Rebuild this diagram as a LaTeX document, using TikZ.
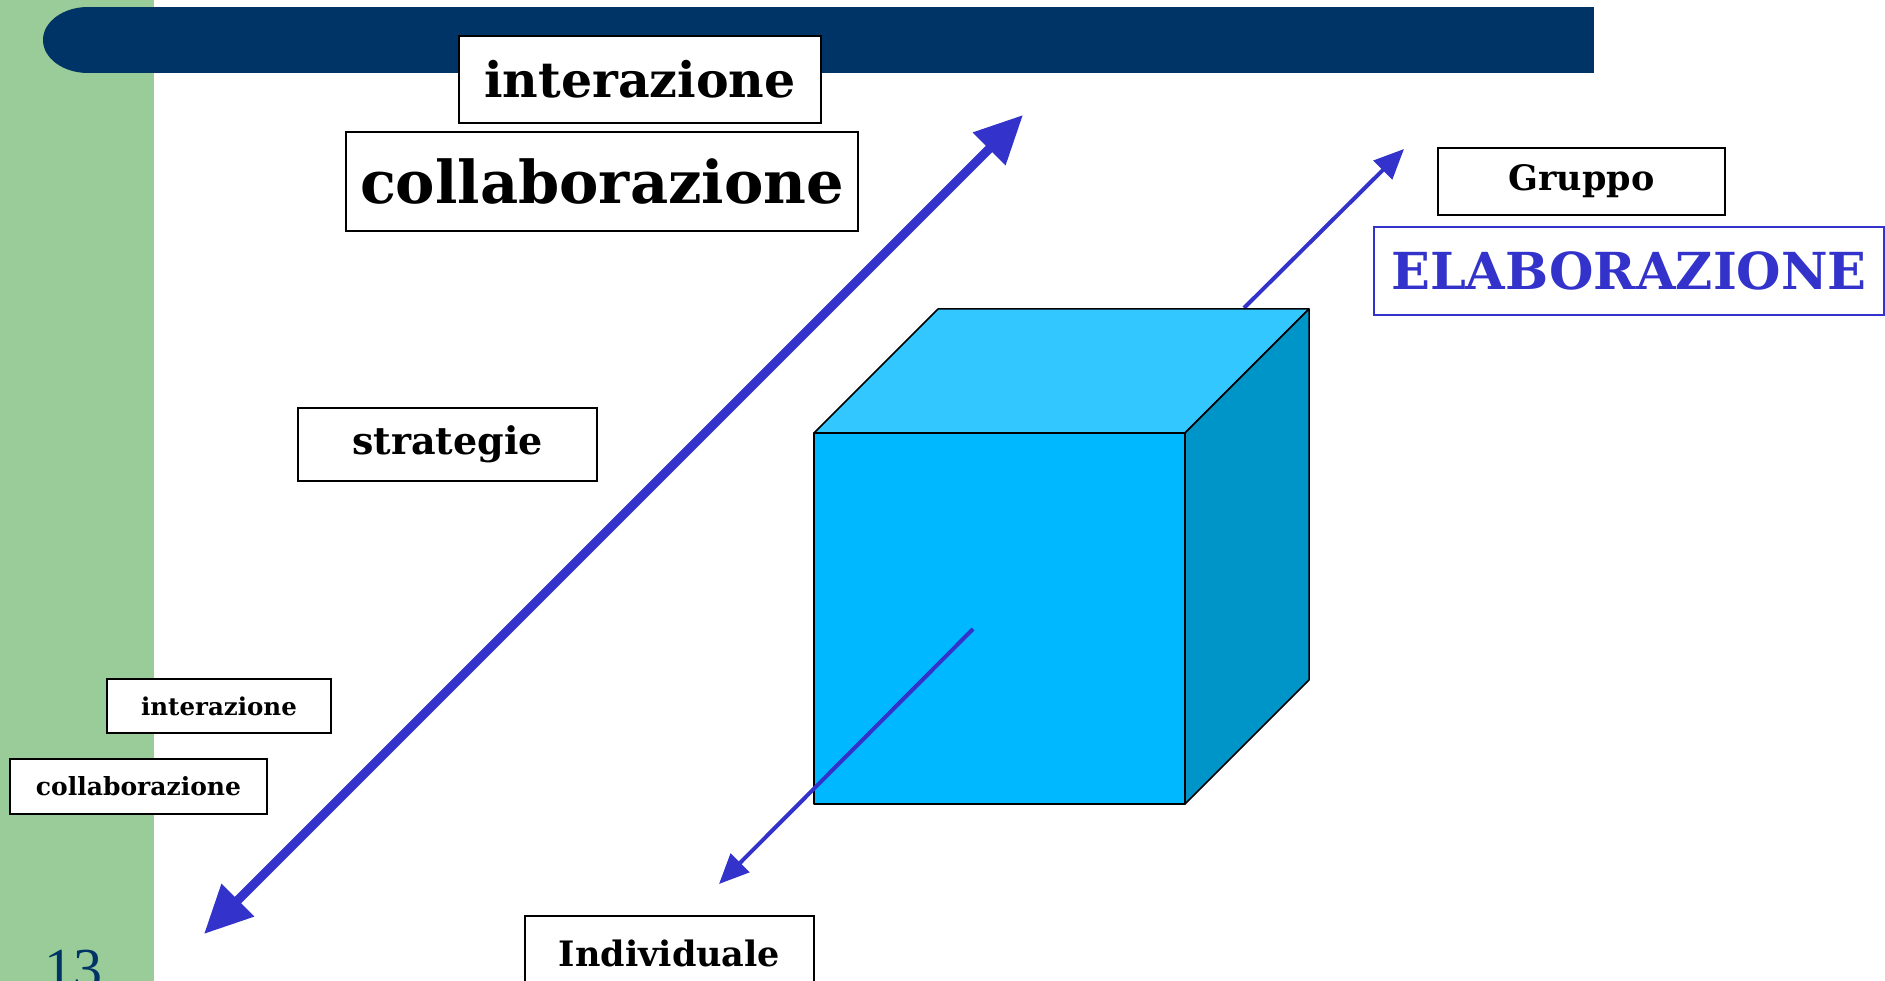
\documentclass[tikz,border=0pt]{standalone}
\usepackage{fontspec}
\setmainfont{DejaVu Serif}
\newfontfamily\numfont{Liberation Serif}
\usetikzlibrary{arrows.meta}
\definecolor{navy}{RGB}{0,51,102}
\definecolor{sidegreen}{RGB}{153,204,153}
\definecolor{arrowblue}{RGB}{51,51,204}
\definecolor{cubefront}{RGB}{0,184,255}
\definecolor{cubetop}{RGB}{51,199,255}
\definecolor{cubeside}{RGB}{0,149,201}
\tikzset{
  lbox/.style={draw=black, line width=2pt, fill=white, inner sep=0pt, align=center, font=\bfseries},
  bigarrow/.style={draw=arrowblue, line width=9pt, {Triangle[length=48pt,width=44pt]}-{Triangle[length=48pt,width=44pt]}},
  thinarrow/.style={draw=arrowblue, line width=4pt, -{Triangle[length=30pt,width=26pt]}},
  edge/.style={draw=black, line width=1.5pt, line join=round}
}
\begin{document}
\begin{tikzpicture}[x=1pt,y=-1pt]
\useasboundingbox (0,0) rectangle (1885,981);
\fill[white] (0,0) rectangle (1885,981);
% green side strip
\fill[sidegreen] (0,0) rectangle (154,981);
% navy title bar
\fill[navy] (88,7) rectangle (1594,73);
\fill[navy] (88,40) ellipse [x radius=45, y radius=33];
% page number
\node[anchor=north west, inner sep=0pt, text=navy, font=\numfont\fontsize{58}{58}\selectfont] (num) at (44,950) {13};
% big double arrow
\coordinate (ba1) at (204,934);
\coordinate (ba2) at (1023,115);
\draw[bigarrow] (ba1) -- (ba2);
% upper thin arrow (behind the cube)
\coordinate (ua1) at (1244,308);
\coordinate (ua2) at (1404,149);
\draw[thinarrow] (ua1) -- (ua2);
% cube
\coordinate (f1) at (814,433);
\coordinate (f2) at (1185,433);
\coordinate (f3) at (1185,804);
\coordinate (f4) at (814,804);
\coordinate (b1) at (938,309);
\coordinate (b2) at (1309,309);
\coordinate (b3) at (1309,680);
\filldraw[edge, fill=cubetop] (f1) -- (b1) -- (b2) -- (f2) -- cycle;
\filldraw[edge, fill=cubeside] (f2) -- (b2) -- (b3) -- (f3) -- cycle;
\filldraw[edge, fill=cubefront] (f1) rectangle (f3);
% lower thin arrow (over the cube)
\coordinate (la1) at (973,629);
\coordinate (la2) at (719,884);
\draw[thinarrow] (la1) -- (la2);
% labels
\node[lbox, minimum width=362pt, minimum height=87pt, font=\bfseries\fontsize{49}{49}\selectfont] (int1) at (640,79.5) {interazione};
\node[lbox, minimum width=512pt, minimum height=99pt, font=\bfseries\fontsize{59}{59}\selectfont] (col1) at (602,181.5) {collaborazione};
\node[lbox, minimum width=287pt, minimum height=67pt, font=\bfseries\fontsize{35}{35}\selectfont] (grp) at (1581.5,181.5) {Gruppo};
\node[lbox, draw=arrowblue, text=arrowblue, minimum width=510pt, minimum height=88pt, font=\bfseries\fontsize{51}{51}\selectfont] (elab) at (1629,271) {ELABORAZIONE};
\node[lbox, minimum width=299pt, minimum height=73pt, font=\bfseries\fontsize{38}{38}\selectfont] (strat) at (447.5,444.5) {strategie};
\node[lbox, minimum width=224pt, minimum height=54pt, font=\bfseries\fontsize{24.5}{24.5}\selectfont] (int2) at (219,706) {interazione};
\node[lbox, minimum width=257pt, minimum height=55pt, font=\bfseries\fontsize{25}{25}\selectfont] (col2) at (138.5,786.5) {collaborazione};
\node[lbox, minimum width=289pt, minimum height=74pt, font=\bfseries\fontsize{35}{35}\selectfont] (ind) at (669.5,953) {Individuale};
\end{tikzpicture}
\end{document}
